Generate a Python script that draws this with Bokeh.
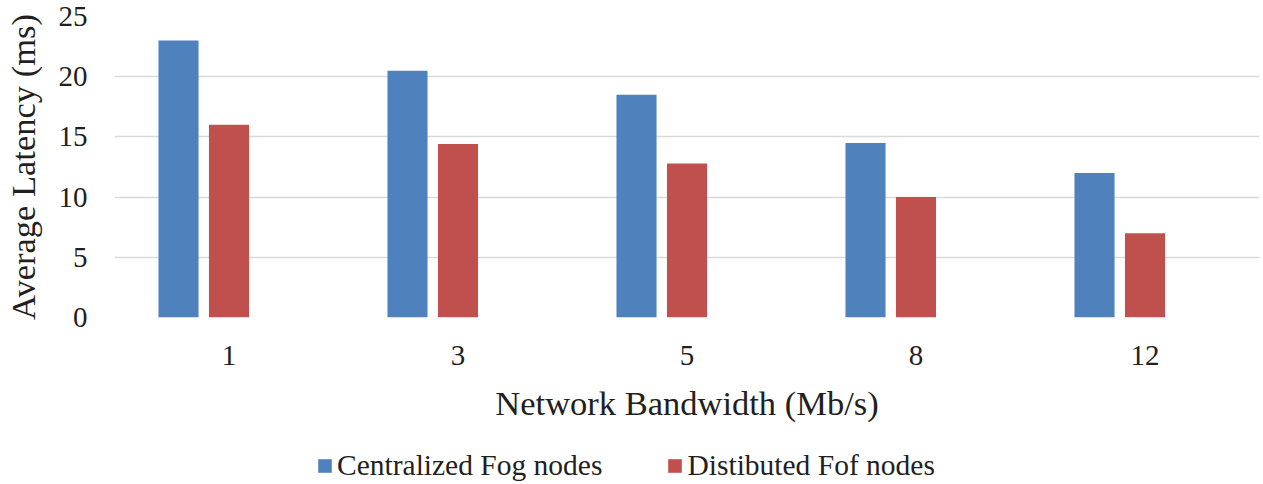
from bokeh.plotting import figure
from bokeh.models import ColumnDataSource, FactorRange, Range1d, Legend, LegendItem, FixedTicker
from bokeh.layouts import column
from bokeh.transform import dodge
from bokeh.embed import file_html
from bokeh.resources import INLINE

categories = ["1", "3", "5", "8", "12"]
centralized = [23.0, 20.5, 18.5, 14.5, 12.0]
distributed = [16.0, 14.4, 12.8, 10.0, 7.0]
series_names = ["Centralized Fog nodes", "Distibuted Fof nodes"]
y_ticks = [0, 5, 10, 15, 20, 25]

BLUE = "#4F81BD"
RED = "#C0504D"
TEXT = "#231F20"
FONT = "Liberation Serif"

src = ColumnDataSource(dict(cat=categories, c=centralized, d=distributed))

p = figure(
    x_range=FactorRange(factors=categories, range_padding=0),
    y_range=Range1d(0, 25),
    width=1263, height=440,
    output_backend="svg", toolbar_location=None,
    min_border_left=114, min_border_right=4, min_border_top=16, min_border_bottom=123,
)
p.outline_line_color = None
p.background_fill_color = "white"
p.border_fill_color = "white"

r1 = p.vbar(x=dodge("cat", -0.2205, range=p.x_range), top="c", width=0.175, source=src,
            fill_color=BLUE, line_color=None)
r2 = p.vbar(x=dodge("cat", 0.0, range=p.x_range), top="d", width=0.175, source=src,
            fill_color=RED, line_color=None)

p.xgrid.grid_line_color = None
p.ygrid.grid_line_color = "#D9D9D9"
p.ygrid.grid_line_width = 1.3
p.yaxis.ticker = FixedTicker(ticks=y_ticks)

for ax in (p.xaxis[0], p.yaxis[0]):
    ax.axis_line_color = None
    ax.major_tick_line_color = None
    ax.minor_tick_line_color = None
    ax.major_tick_out = 0
    ax.major_tick_in = 0
    ax.minor_tick_out = 0
    ax.major_label_text_font = FONT
    ax.major_label_text_font_size = "29px"
    ax.major_label_text_color = TEXT
    ax.axis_label_text_font = FONT
    ax.axis_label_text_font_size = "34.5px"
    ax.axis_label_text_font_style = "normal"
    ax.axis_label_text_color = TEXT

p.yaxis.axis_label = "Average Latency (ms)"
p.yaxis.major_label_standoff = 27
p.yaxis.axis_label_standoff = 14
p.xaxis.axis_label = "Network Bandwidth (Mb/s)"
p.xaxis.major_label_standoff = 28
p.xaxis.axis_label_standoff = 16

# Legend strip below the chart (separate figure so the legend is not clipped)
lg = figure(
    x_range=Range1d(0, 1145), y_range=Range1d(0, 44),
    width=1263, height=44,
    output_backend="svg", toolbar_location=None,
    min_border=0, min_border_left=114, min_border_right=4, min_border_top=0, min_border_bottom=0,
)
lg.axis.visible = False
lg.grid.visible = False
lg.outline_line_color = None
lg.border_fill_color = "white"
lg.background_fill_color = "white"
lsrc = ColumnDataSource(dict(x=[-1000], top=[0]))
g1 = lg.vbar(x="x", top="top", width=1, source=lsrc, fill_color=BLUE, line_color=None)
g2 = lg.vbar(x="x", top="top", width=1, source=lsrc, fill_color=RED, line_color=None)

legend = Legend(
    items=[LegendItem(label=series_names[0], renderers=[g1]),
           LegendItem(label=series_names[1], renderers=[g2])],
    orientation="horizontal",
    location=(202, 2),
    glyph_width=17, glyph_height=17,
    label_standoff=4, spacing=64, padding=0, margin=0,
    border_line_color=None, background_fill_alpha=0,
    label_text_font=FONT, label_text_font_size="29.5px", label_text_color=TEXT,
)
lg.add_layout(legend, "center")

layout = column(p, lg, spacing=0)
open("out.html", "w").write(file_html(layout, INLINE))
